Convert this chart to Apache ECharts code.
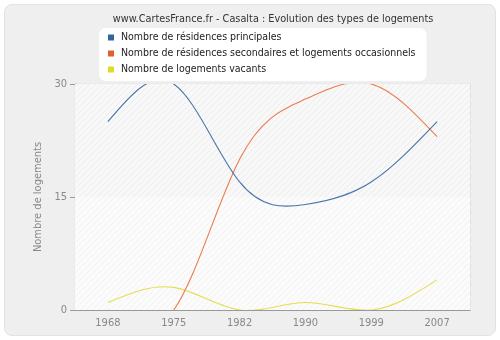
<!DOCTYPE html>
<html><head><meta charset="utf-8">
<script src="https://cdn.jsdelivr.net/npm/echarts@6/dist/echarts.min.js"></script>
<style>
html,body{margin:0;padding:0;background:#fff;}
#wrap{position:absolute;left:4px;top:4px;width:490px;height:330px;background:#efefef;border:1px solid #e2e2e2;border-radius:8px;}
#c{position:absolute;left:0;top:0;width:500px;height:340px;}
</style></head>
<body><div id="wrap"></div><div id="c"></div>
<script>
const categories = ['1968','1975','1982','1990','1999','2007'];
const principales = [25, 30, 17, 14, 17, 25];
const secondaires = [0, 0, 20, 28, 30, 23];
const vacants = [1, 3, 0, 1, 0, 4];
const yTicks = [0, 15, 30];

function hatch(bg, line){
  const cv = document.createElement('canvas');
  cv.width = 6; cv.height = 6;
  const ctx = cv.getContext('2d');
  ctx.fillStyle = bg; ctx.fillRect(0,0,6,6);
  ctx.strokeStyle = line; ctx.lineWidth = 1;
  ctx.beginPath();
  ctx.moveTo(0,6); ctx.lineTo(6,0);
  ctx.moveTo(-1,1); ctx.lineTo(1,-1);
  ctx.moveTo(5,7); ctx.lineTo(7,5);
  ctx.stroke();
  return {image: cv, repeat: 'repeat'};
}

// natural cubic spline second derivatives (uniform spacing)
function naturalM(y){
  const n = y.length, M = new Array(n).fill(0);
  if (n < 3) return M;
  const a = [], b = [], c = [], d = [];
  for (let i = 1; i < n-1; i++){ a.push(1); b.push(4); c.push(1); d.push(6*(y[i+1]-2*y[i]+y[i-1])); }
  const m = b.length;
  for (let i = 1; i < m; i++){ const w = a[i]/b[i-1]; b[i] -= w*c[i-1]; d[i] -= w*d[i-1]; }
  const x = new Array(m);
  x[m-1] = d[m-1]/b[m-1];
  for (let i = m-2; i >= 0; i--) x[i] = (d[i]-c[i]*x[i+1])/b[i];
  for (let i = 0; i < m; i++) M[i+1] = x[i];
  return M;
}

function splineSeries(name, values, color, lineColor, z){
  return {
    name, type:'custom', z, color, itemStyle:{color}, clip:true,
    data: values.map((v,i)=>[i,v]),
    encode:{x:0,y:1},
    renderItem(params, api){
      if (params.dataIndex !== 0) return null;
      const pts = values.map((v,i)=>api.coord([i,v]));
      const py = pts.map(p=>p[1]);
      const M = naturalM(py);
      let d = 'M' + pts[0][0] + ' ' + pts[0][1];
      for (let i = 0; i < pts.length-1; i++){
        const dx = pts[i+1][0]-pts[i][0];
        const dy = py[i+1]-py[i];
        const d0 = dy - (2*M[i]+M[i+1])/6;
        const d1 = dy + (M[i]+2*M[i+1])/6;
        d += ' C' + (pts[i][0]+dx/3) + ' ' + (py[i]+d0/3) + ' ' + (pts[i+1][0]-dx/3) + ' ' + (py[i+1]-d1/3) + ' ' + pts[i+1][0] + ' ' + py[i+1];
      }
      const cs = params.coordSys;
      return {
        type:'path', shape:{pathData:d},
        style:{fill:null, stroke:lineColor, lineWidth:1.1},
        clipPath:{type:'rect', shape:{x:cs.x, y:cs.y, width:cs.width, height:cs.height}},
        silent:true
      };
    }
  };
}

const chart = echarts.init(document.getElementById('c'), null, {renderer:'canvas'});
const font = "'DejaVu Sans Condensed', 'Liberation Sans', sans-serif";
chart.setOption({
  animation:false,
  title:{text:'www.CartesFrance.fr - Casalta : Evolution des types de logements',left:268,top:9,textAlign:'center',
    textStyle:{fontFamily:font,fontSize:10.8,fontWeight:'normal',color:'#333'}},
  legend:{orient:'vertical',left:99,top:28,backgroundColor:'#fff',borderRadius:7,
    padding:[4,11,6,9],itemGap:5,itemWidth:6,itemHeight:6,icon:'rect',
    textStyle:{fontFamily:font,fontSize:10.5,color:'#222',padding:[0,0,0,2]},
    data:['Nombre de résidences principales','Nombre de résidences secondaires et logements occasionnels','Nombre de logements vacants']},
  grid:{left:75,right:30,top:84,bottom:30,show:true,borderColor:'#e4e4e4',borderWidth:1,backgroundColor:'#fafafa'},
  xAxis:{type:'category',data:categories,boundaryGap:true,
    axisLine:{lineStyle:{color:'#999'}},
    axisTick:{alignWithLabel:true,length:3,lineStyle:{color:'#999'}},
    axisLabel:{fontFamily:font,fontSize:11,color:'#888',margin:8},
    splitLine:{show:true,interval:0,lineStyle:{color:'#e0e0e0',type:[5,4]}}},
  yAxis:{type:'value',min:0,max:30,interval:15,name:'Nombre de logements',nameLocation:'middle',nameGap:27,
    nameTextStyle:{fontFamily:font,fontSize:11,color:'#888'},
    axisLine:{show:true,lineStyle:{color:'#999'}},
    axisTick:{show:true,length:5,lineStyle:{color:'#999'}},
    axisLabel:{fontFamily:font,fontSize:11,color:'#888',margin:8,formatter:v=>yTicks.includes(v)?String(v):''},
    splitLine:{show:true,lineStyle:{color:'#e4e4e4',type:[5,4]}}},
  series:[
    Object.assign(splineSeries('Nombre de résidences principales',principales,'#336699','#4a76aa',5),{
      markArea:{silent:true,z:1,data:[
        [{yAxis:15,itemStyle:{color:hatch('#f8f8f8','#ececec')}},{yAxis:30}],
        [{yAxis:0,itemStyle:{color:hatch('#fbfbfb','#f2f2f2')}},{yAxis:15}]
      ]}}),
    splineSeries('Nombre de résidences secondaires et logements occasionnels',secondaires,'#e06030','#ec7a4e',4),
    splineSeries('Nombre de logements vacants',vacants,'#dddd22','#e6dc50',3)
  ]
});
</script></body></html>
